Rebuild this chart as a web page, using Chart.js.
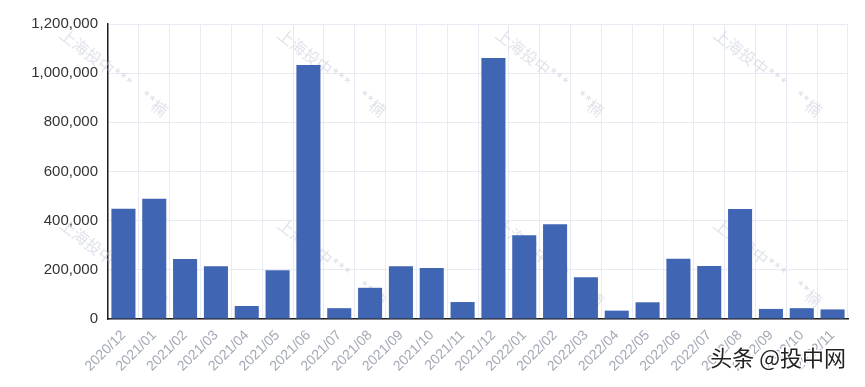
<!DOCTYPE html>
<html>
<head>
<meta charset="utf-8">
<script src="https://cdn.jsdelivr.net/npm/chart.js@4/dist/chart.umd.min.js"></script>
<style>
  html, body { margin: 0; padding: 0; background: #fff; }
  #wrap { width: 865px; height: 387px; position: relative; }
</style>
</head>
<body>
<div id="wrap"><canvas id="myChart" width="865" height="387"></canvas></div>
<script>
// months on the x axis
const months = ['2020/12', '2021/01', '2021/02', '2021/03', '2021/04', '2021/05', '2021/06',
  '2021/07', '2021/08', '2021/09', '2021/10', '2021/11', '2021/12', '2022/01', '2022/02',
  '2022/03', '2022/04', '2022/05', '2022/06', '2022/07', '2022/08', '2022/09', '2022/10', '2022/11'];

// values
const amounts = [448000, 489000, 244000, 215000, 53000, 198000, 1033000,
  44000, 127000, 215000, 207000, 69000, 1062000, 341000, 385000,
  170000, 34000, 68000, 245000, 216000, 447000, 41000, 44000, 39000];

const yTicks = [0, 200000, 400000, 600000, 800000, 1000000, 1200000];

const watermarkText = '上海投中***    **楠';
const sourceText = '头条 @投中网';

// faint diagonal watermark + source tag
const marks = {
  id: 'marks',
  beforeDatasetsDraw(chart) {
    const ctx = chart.ctx;
    ctx.save();
    ctx.font = '16px "Noto Sans CJK SC", sans-serif';
    ctx.fillStyle = 'rgba(195, 200, 218, 0.5)';
    ctx.textBaseline = 'middle';
    [32, 222].forEach(function (y) {
      [62, 280, 498, 716].forEach(function (x) {
        ctx.save();
        ctx.translate(x, y);
        ctx.rotate(38 * Math.PI / 180);
        ctx.fillText(watermarkText, 0, 0);
        ctx.restore();
      });
    });
    ctx.restore();
  },
  afterDraw(chart) {
    const ctx = chart.ctx;
    ctx.save();
    ctx.font = '22px "Noto Sans CJK SC", sans-serif';
    ctx.textAlign = 'right';
    ctx.textBaseline = 'middle';
    ctx.lineWidth = 3;
    ctx.strokeStyle = '#fff';
    ctx.strokeText(sourceText, 846, 358);
    ctx.fillStyle = '#222';
    ctx.fillText(sourceText, 846, 358);
    ctx.restore();
  }
};

window.addEventListener('load', setup);

function setup() {
  const ctx = document.getElementById('myChart').getContext('2d');
  const myChart = new Chart(ctx, {
    type: 'bar',
    data: {
      labels: months,
      datasets: [
        {
          data: amounts,
          backgroundColor: '#4065b3',
          borderWidth: 0,
          barPercentage: 0.78,
          categoryPercentage: 1
        }
      ]
    },
    options: {
      responsive: false,
      animation: false,
      layout: { padding: { top: 24, right: 17, left: 0, bottom: 0 } },
      plugins: { legend: { display: false }, tooltip: { enabled: false } },
      scales: {
        x: {
          grid: { color: '#e8ebf4', drawTicks: false, offset: true },
          border: { color: '#222', width: 1.5 },
          ticks: {
            color: '#a3a8b6',
            font: { family: 'Liberation Sans', size: 14 },
            minRotation: 45,
            maxRotation: 45,
            padding: 8,
            autoSkip: false
          },
          afterFit(scale) { scale.height = 68; }
        },
        y: {
          min: 0,
          max: 1200000,
          afterBuildTicks(scale) { scale.ticks = yTicks.map(v => ({ value: v })); },
          grid: { color: '#e8ebf4', drawTicks: false },
          border: { color: '#222', width: 1.5 },
          ticks: {
            color: '#333',
            font: { family: 'Liberation Sans', size: 15 },
            padding: 10,
            callback: v => v.toLocaleString('en-US')
          },
          afterFit(scale) { scale.width = 108; }
        }
      }
    },
    plugins: [marks]
  });
}
</script>
</body>
</html>
